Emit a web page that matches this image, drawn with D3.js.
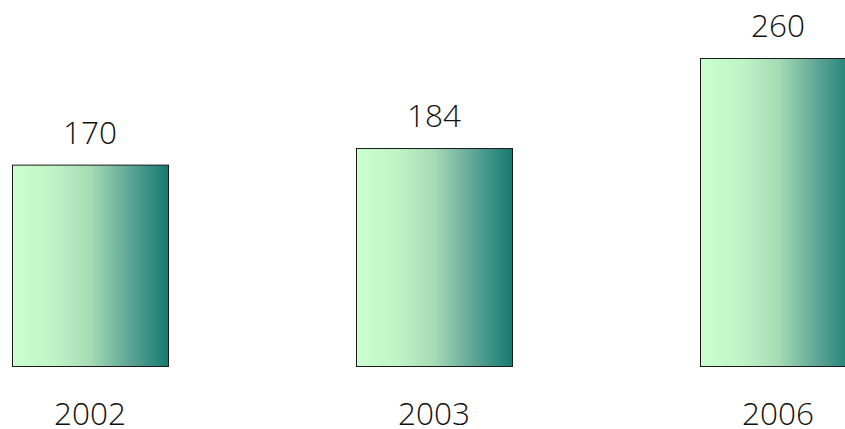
<!DOCTYPE html>
<html><head><meta charset="utf-8">
<script src="https://cdn.jsdelivr.net/npm/d3@7"></script>
<style>html,body{margin:0;padding:0;background:#fff;overflow:hidden;width:845px;height:429px}svg{display:block}</style>
</head><body>
<script>
const categories = ["2002", "2003", "2006"];
const values = [170, 184, 260];

const W = 845, H = 429;
const svg = d3.select("body").append("svg").attr("width", W).attr("height", H);

const defs = svg.append("defs");
const grad = defs.append("linearGradient").attr("id", "g").attr("x1", "0%").attr("x2", "100%").attr("y1", "0%").attr("y2", "0%");
[[0, "#ccffcf"], [0.25, "#c2f5c6"], [0.5, "#a6dbb5"], [0.75, "#5ea596"], [1, "#147a71"]]
  .forEach(([o, c]) => grad.append("stop").attr("offset", o).attr("stop-color", c));

const x = d3.scaleBand().domain(categories).range([12, 856]).paddingInner(0.5465).paddingOuter(0);
const y = d3.scaleLinear().domain([0, 260]).range([366, 58]);

const g = svg.append("g");
g.selectAll("rect").data(values).join("rect")
  .attr("x", (d, i) => x(categories[i]) + 0.5)
  .attr("y", d => y(d) + 0.5)
  .attr("width", x.bandwidth())
  .attr("height", d => y(0) - y(d))
  .attr("fill", "url(#g)")
  .attr("stroke", "#1a1a1a")
  .attr("stroke-width", 1);

g.selectAll("text.v").data(values).join("text").attr("class", "v")
  .attr("x", (d, i) => x(categories[i]) + x.bandwidth() / 2)
  .attr("y", d => y(d) - 21)
  .attr("text-anchor", "middle")
  .attr("font-family", "Open Sans")
  .attr("font-weight", 300)
  .attr("font-size", 31.5)
  .attr("fill", "#111")
  .text(d => d);

g.selectAll("text.c").data(categories).join("text").attr("class", "c")
  .attr("x", d => x(d) + x.bandwidth() / 2)
  .attr("y", 425)
  .attr("text-anchor", "middle")
  .attr("font-family", "Open Sans")
  .attr("font-weight", 300)
  .attr("font-size", 31.5)
  .attr("fill", "#111")
  .text(d => d);
</script>
</body></html>
